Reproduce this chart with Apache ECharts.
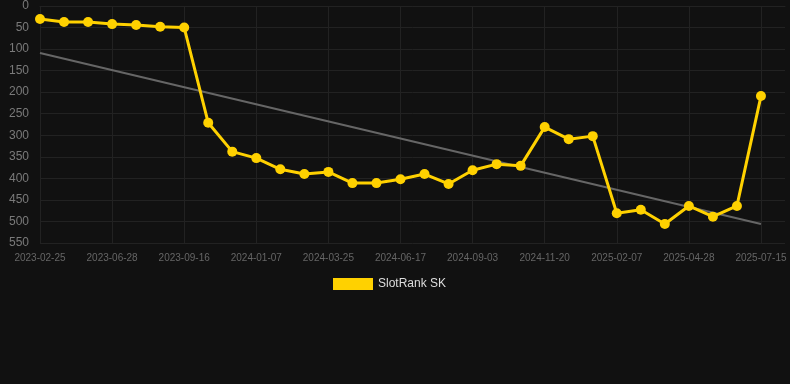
<!DOCTYPE html>
<html>
<head>
<meta charset="utf-8">
<script src="https://cdn.jsdelivr.net/npm/echarts@6/dist/echarts.min.js"></script>
<style>
html,body{margin:0;padding:0;background:#111111;}
#chart{width:790px;height:384px;}
</style>
</head>
<body>
<div id="chart"></div>
<script>
// Categories (dates); every third one is labelled in the reference. Last one is an empty padding slot.
const dates = [
  '2023-02-25','2023-03-30','2023-05-20','2023-06-28','2023-07-25','2023-08-20',
  '2023-09-16','2023-10-28','2023-12-01','2024-01-07','2024-02-02','2024-02-28',
  '2024-03-25','2024-04-22','2024-05-20','2024-06-17','2024-07-13','2024-08-08',
  '2024-09-03','2024-09-29','2024-10-25','2024-11-20','2024-12-16','2025-01-12',
  '2025-02-07','2025-03-05','2025-04-01','2025-04-28','2025-05-24','2025-06-19',
  '2025-07-15','2025-08-10'
];
// SlotRank SK rank values
const rankValues = [
  30, 37, 37, 42, 44, 48, 50, 271, 338, 353, 379, 390, 385, 411, 411, 402,
  390, 413, 381, 367, 371, 281, 309, 302, 481, 473, 506, 464, 489, 464, 209
];
// Trend line end values (first and last category)
const trendIdx = [0, 30];
const trendValues = [109, 506];
const yTicks = { min: 0, max: 550, interval: 50 };
const seriesName = 'SlotRank SK';

const chart = echarts.init(document.getElementById('chart'), null, { renderer: 'canvas' });
chart.setOption({
  backgroundColor: '#111111',
  animation: false,
  grid: { left: 40, right: 5, top: 6, bottom: 141 },
  legend: {
    data: [seriesName],
    top: 273,
    left: 328,
    icon: 'rect',
    itemWidth: 40,
    itemHeight: 12,
    itemGap: 10,
    textStyle: { color: '#dddddd', fontSize: 12, fontFamily: 'Liberation Sans, Arial, sans-serif' }
  },
  xAxis: {
    type: 'category',
    data: dates,
    boundaryGap: false,
    axisLine: { show: true, lineStyle: { color: '#222222' } },
    axisTick: { show: false },
    axisLabel: {
      interval: 2,
      color: '#666666',
      fontSize: 10,
      margin: 10,
      fontFamily: 'Liberation Sans, Arial, sans-serif'
    },
    splitLine: { show: true, interval: 2, lineStyle: { color: '#222222', width: 1 } }
  },
  yAxis: {
    type: 'value',
    inverse: true,
    min: yTicks.min,
    max: yTicks.max,
    interval: yTicks.interval,
    axisLine: { show: false },
    axisTick: { show: false },
    axisLabel: { color: '#7a7a7a', fontSize: 12, margin: 11, fontFamily: 'Liberation Sans, Arial, sans-serif' },
    splitLine: { show: true, lineStyle: { color: '#222222', width: 1 } }
  },
  series: [
    {
      name: 'trend',
      type: 'line',
      data: trendIdx.map((i, k) => [i, trendValues[k]]),
      symbol: 'none',
      lineStyle: { color: '#666666', width: 2 },
      silent: true,
      z: 1
    },
    {
      name: seriesName,
      type: 'line',
      data: rankValues,
      symbol: 'circle',
      symbolSize: 10,
      itemStyle: { color: '#FFD100' },
      lineStyle: { color: '#FFD100', width: 3 },
      z: 2
    }
  ]
});
</script>
</body>
</html>
